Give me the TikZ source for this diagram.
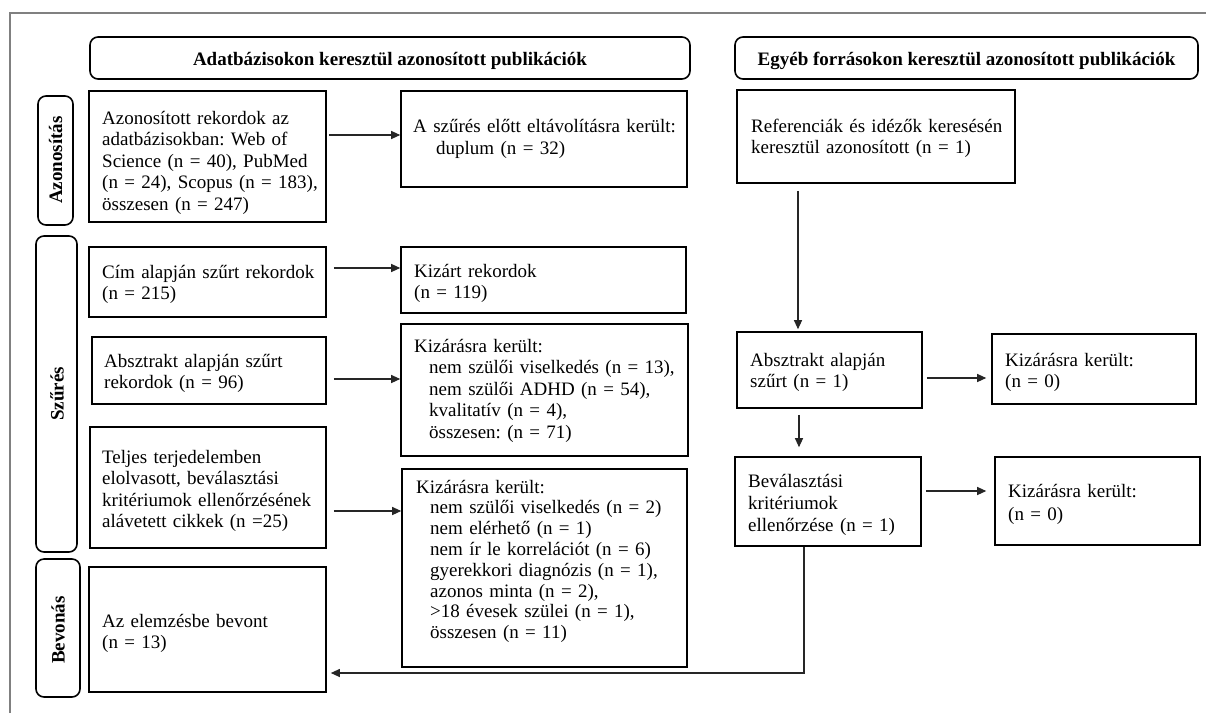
\documentclass[tikz,border=0pt]{standalone}
\usepackage{fontspec}
\setmainfont{Liberation Serif}
\usetikzlibrary{arrows.meta}
\frenchspacing
\begin{document}
\begin{tikzpicture}[x=1pt,y=-1pt,
  box/.style={draw=black, line width=1.6pt, inner sep=0pt},
  rbox/.style={box, rounded corners=8pt},
  txt/.style={anchor=base west, inner sep=0pt, text width=300pt, align=left,
    font=\fontsize{19}{21.5}\selectfont},
  btxt/.style={inner sep=0pt, font=\bfseries\fontsize{19}{21.5}\selectfont},
  conn/.style={draw=black!85, line width=1.1pt},
  arr/.style={conn, -{Triangle[length=9pt,width=8pt]}},
  frame/.style={draw=black!50, line width=1.6pt}
]
\useasboundingbox (0,0) rectangle (1206,713);
\fill[white] (0,0) rectangle (1206,713);
\draw[frame] (10,713) -- (10,13) -- (1206,13);

% headers
\node[rbox, minimum width=600pt, minimum height=42pt] (h1) at (390,58) {};
\node[btxt, anchor=base] (h1t) at (390,65) {Adatbázisokon keresztül azonosított publikációk};
\node[rbox, minimum width=463pt, minimum height=42pt] (h2) at (966.5,58) {};
\node[btxt, anchor=base] (h2t) at (966.5,65) {Egyéb forrásokon keresztül azonosított publikációk};

% side labels
\node[rbox, minimum width=35pt, minimum height=129pt] (l1) at (55.5,160.5) {};
\node[btxt, rotate=90] (l1t) at (55.5,160) {Azonosítás};
\node[rbox, minimum width=41pt, minimum height=316pt] (l2) at (56.5,394) {};
\node[btxt, rotate=90] (l2t) at (57,394) {Szűrés};
\node[rbox, minimum width=44pt, minimum height=138pt] (l3) at (58,628) {};
\node[btxt, rotate=90] (l3t) at (58,630) {Bevonás};

% boxes
\node[box, minimum width=237pt, minimum height=131pt] (a1) at (207.5,156.5) {};
\node[box, minimum width=286pt, minimum height=96pt] (a2) at (544,139) {};
\node[box, minimum width=278pt, minimum height=93pt] (r1) at (876,136.5) {};
\node[box, minimum width=237pt, minimum height=70pt] (s1) at (207.5,282) {};
\node[box, minimum width=285pt, minimum height=66pt] (s1r) at (543.5,280) {};
\node[box, minimum width=234pt, minimum height=67pt] (s2) at (209,370.5) {};
\node[box, minimum width=287pt, minimum height=132pt] (s2r) at (544.5,390) {};
\node[box, minimum width=236pt, minimum height=121pt] (s3) at (208,487.5) {};
\node[box, minimum width=285pt, minimum height=198pt] (s3r) at (544.5,568) {};
\node[box, minimum width=237pt, minimum height=125pt] (b1) at (207.5,629.5) {};
\node[box, minimum width=185pt, minimum height=76pt] (r2) at (829.5,370) {};
\node[box, minimum width=204pt, minimum height=70pt] (r2r) at (1094,369) {};
\node[box, minimum width=186pt, minimum height=89pt] (r3) at (828,501.5) {};
\node[box, minimum width=205pt, minimum height=88pt] (r3r) at (1097.5,501) {};

% texts
\node[txt] (a1t) at (102,124) {Azonosított rekordok az\\adatbázisokban: Web of\\Science (n = 40), PubMed\\(n = 24), Scopus (n = 183),\\összesen (n = 247)};
\node[txt, font=\fontsize{19}{22}\selectfont] (a2t) at (413,132) {A szűrés előtt eltávolításra került:\\\hspace*{23pt}duplum (n = 32)};
\node[txt] (r1t) at (751,132) {Referenciák és idézők keresésén\\keresztül azonosított (n = 1)};
\node[txt] (s1t) at (102,278) {Cím alapján szűrt rekordok\\(n = 215)};
\node[txt] (s1rt) at (414,277) {Kizárt rekordok\\(n = 119)};
\node[txt] (s2t) at (104,367) {Absztrakt alapján szűrt\\rekordok (n = 96)};
\node[txt] (s2rt) at (414,352) {Kizárásra került:\\\hspace*{15pt}nem szülői viselkedés (n = 13),\\\hspace*{15pt}nem szülői ADHD (n = 54),\\\hspace*{15pt}kvalitatív (n = 4),\\\hspace*{15pt}összesen: (n = 71)};
\node[txt] (s3t) at (102,463) {Teljes terjedelemben\\elolvasott, beválasztási\\kritériumok ellenőrzésének\\alávetett cikkek (n =25)};
\node[txt, font=\fontsize{19}{20.8}\selectfont] (s3rt) at (416,493) {Kizárásra került:\\\hspace*{14pt}nem szülői viselkedés (n = 2)\\\hspace*{14pt}nem elérhető (n = 1)\\\hspace*{14pt}nem ír le korrelációt (n = 6)\\\hspace*{14pt}gyerekkori diagnózis (n = 1),\\\hspace*{14pt}azonos minta (n = 2),\\\hspace*{14pt}>18 évesek szülei (n = 1),\\\hspace*{14pt}összesen (n = 11)};
\node[txt] (b1t) at (102,627) {Az elemzésbe bevont\\(n = 13)};
\node[txt] (r2t) at (750,366) {Absztrakt alapján\\szűrt (n = 1)};
\node[txt] (r2rt) at (1005,366) {Kizárásra került:\\(n = 0)};
\node[txt, font=\fontsize{19}{22}\selectfont] (r3t) at (748,487) {Beválasztási\\kritériumok\\ellenőrzése (n = 1)};
\node[txt, font=\fontsize{19}{23}\selectfont] (r3rt) at (1008,497) {Kizárásra került:\\(n = 0)};

% connector helper coordinates
\coordinate (ya) at (0,135);
\coordinate (yb) at (0,268);
\coordinate (yc) at (0,379);
\coordinate (yd) at (0,511);
\coordinate (ye) at (0,378);
\coordinate (yf) at (0,491);
\coordinate (xa) at (798,0);
\coordinate (xb) at (799,0);
\coordinate (ret) at (804,673);

\draw[arr, shorten <=2pt] (a1.east |- ya) -- (a2.west |- ya);
\draw[arr, shorten <=7pt] (s1.east |- yb) -- (s1r.west |- yb);
\draw[arr, shorten <=7pt] (s2.east |- yc) -- (s2r.west |- yc);
\draw[arr, shorten <=7pt] (s3.east |- yd) -- (s3r.west |- yd);
\draw[arr, shorten <=7pt, shorten >=2pt] (r1.south -| xa) -- (r2.north -| xa);
\draw[arr, shorten <=4pt, shorten >=5pt] (r2.east |- ye) -- (r2r.west |- ye);
\draw[arr, shorten <=6pt, shorten >=9pt] (r2.south -| xb) -- (r3.north -| xb);
\draw[arr, shorten <=4pt, shorten >=8pt] (r3.east |- yf) -- (r3r.west |- yf);
\draw[arr, shorten >=4pt] (r3.south -| ret) -- (ret) -- (b1.east |- ret);
\end{tikzpicture}
\end{document}
